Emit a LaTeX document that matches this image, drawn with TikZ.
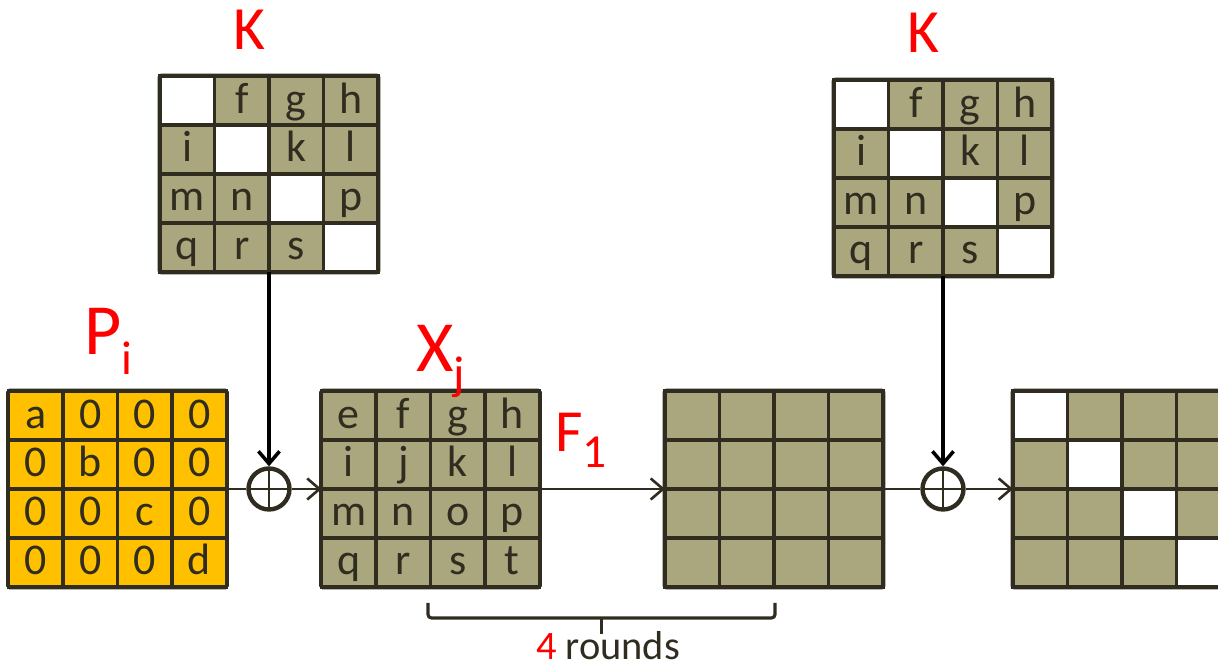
\documentclass[tikz,border=0pt]{standalone}
\usepackage{fontspec}
\setmainfont{Carlito}
\usepackage{xcolor}
\usepackage{tikz}
\usetikzlibrary{arrows.meta}
\definecolor{sand}{RGB}{170,166,126}
\definecolor{gold}{RGB}{255,192,0}
\definecolor{ink}{RGB}{48,44,32}

% one 4x4 state: name, centre, cell fill, diagonal fill, rows of letters
\newcommand{\cellgrid}[5]{%
  \node[statebox] (#1) at (#2) {};
  \foreach \row [count=\r] in {#5} {
    \foreach \t [count=\c] in \row {
      \ifnum\r=\c \def\cf{#4}\else\def\cf{#3}\fi
      \node[cell, fill=\cf, xshift={(\c-1)*1.09cm}, yshift={-(\r-1)*0.98cm}]
        (#1-\r-\c) at (#1.north west) {\t};
    }
  }
}

\begin{document}
\begin{tikzpicture}[x=0.02cm, y=-0.02cm,
  statebox/.style={draw=ink, line width=2.8pt, rounded corners=1pt, minimum width=4.36cm,
    minimum height=3.92cm, inner sep=0pt, outer sep=0pt},
  cell/.style={draw=ink, line width=2.2pt, anchor=north west, minimum width=1.09cm,
    minimum height=0.98cm, inner sep=0pt, outer sep=0pt, text=ink,
    font=\fontsize{25}{25}\selectfont, text height=0.5cm, text depth=0pt},
  xor/.style={circle, draw=ink, line width=2.5pt, minimum size=0.82cm, inner sep=0pt,
    path picture={\draw[ink, line width=1.4pt]
      (path picture bounding box.north) -- (path picture bounding box.south)
      (path picture bounding box.west) -- (path picture bounding box.east);}},
  flow/.style={draw=ink, line width=1.5pt, -{Straight Barb[length=7pt, width=12pt]}},
  keyflow/.style={draw=black, line width=2pt, -{Straight Barb[length=7pt, width=12pt]}},
  lbl/.style={text=red, inner sep=0pt, anchor=base west}]
  \useasboundingbox (0,0) rectangle (1218,668);
  \clip (0,0) rectangle (1218,668);

  % key matrices
  \cellgrid{keyl}{269,174}{sand}{white}{{{},f,g,h},{i,{},k,l},{m,n,{},p},{q,r,s,{}}}
  \cellgrid{keyr}{943,178}{sand}{white}{{{},f,g,h},{i,{},k,l},{m,n,{},p},{q,r,s,{}}}
  % plaintext, state, round output, cipher
  \cellgrid{plain}{117.5,489}{gold}{gold}{{a,0,0,0},{0,b,0,0},{0,0,c,0},{0,0,0,d}}
  \cellgrid{xstate}{430.5,489}{sand}{sand}{{e,f,g,h},{i,j,k,l},{m,n,o,p},{q,r,s,t}}
  \cellgrid{fout}{774,489}{sand}{sand}{{{},{},{},{}},{{},{},{},{}},{{},{},{},{}},{{},{},{},{}}}
  \cellgrid{cipher}{1122,489}{sand}{white}{{{},{},{},{}},{{},{},{},{}},{{},{},{},{}},{{},{},{},{}}}

  \node[xor] (xorl) at (269,489) {};
  \node[xor] (xorr) at (943,489) {};

  \node[lbl, font=\fontsize{35}{35}\selectfont] (klabl) at (233,50) {K};
  \node[lbl, font=\fontsize{35}{35}\selectfont] (klabr) at (907,53) {K};
  \node[lbl, font=\fontsize{41}{41}\selectfont] (plab) at (84,355)
    {P\raisebox{-11pt}{\fontsize{27}{27}\selectfont i}};
  \node[lbl, font=\fontsize{41}{41}\selectfont] (xlab) at (416,372)
    {X\raisebox{-10pt}{\fontsize{27}{27}\selectfont j}};
  \node[lbl, font=\fontsize{34}{34}\selectfont] (flab) at (555,452)
    {F\raisebox{-9pt}{\fontsize{27}{27}\selectfont 1}};

  \draw[draw=ink, line width=1.5pt] (plain.east) -- (xorl);
  \draw[flow] (xorl) -- (xstate.west);
  \draw[flow] (xstate.east) -- (fout.west);
  \draw[draw=ink, line width=1.5pt] (fout.east) -- (xorr);
  \draw[flow] (xorr) -- (cipher.west);
  \draw[keyflow] (keyl.south) -- (xorl.north);
  \draw[keyflow] (keyr.south) -- (xorr.north);

  % brace under the rounds
  \draw[ink, line width=1.8pt, rounded corners=2pt] (428,603) -- (428,618) -- (775,618) -- (775,603);
  \draw[ink, line width=2.2pt] (601.5,618) -- (601.5,634);
  \node[anchor=base, text=ink, inner sep=0pt, font=\fontsize{23}{23}\selectfont] (rounds)
    at (608,660) {\textcolor{red}{4} rounds};
\end{tikzpicture}
\end{document}
